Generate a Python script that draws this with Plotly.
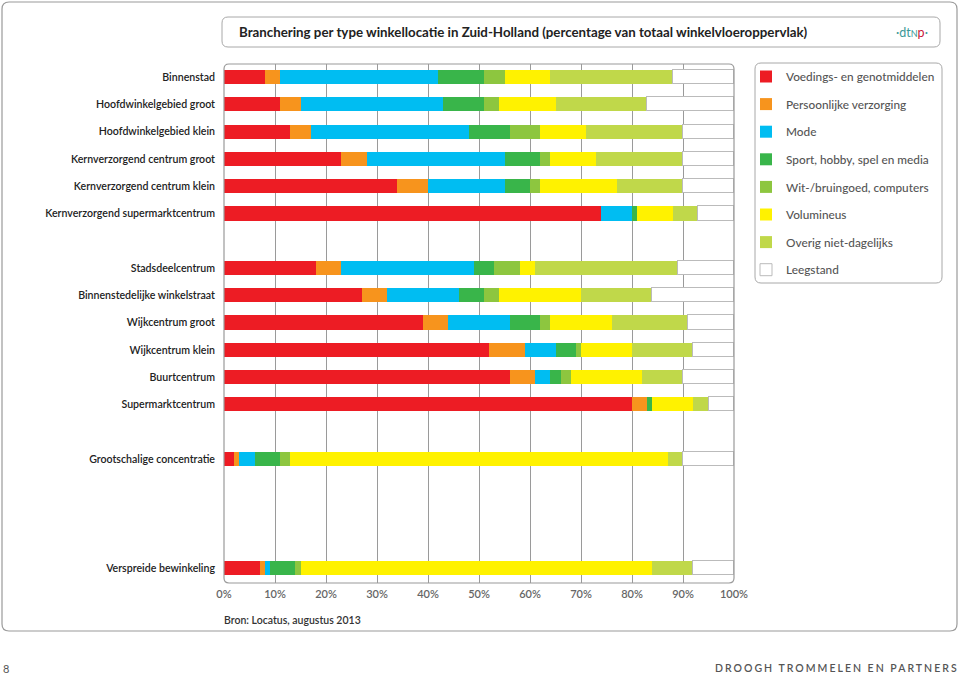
import plotly.graph_objects as go

# ---------------- data ----------------
categories = [
    "Binnenstad", "Hoofdwinkelgebied groot", "Hoofdwinkelgebied klein",
    "Kernverzorgend centrum groot", "Kernverzorgend centrum klein",
    "Kernverzorgend supermarktcentrum",
    "Stadsdeelcentrum", "Binnenstedelijke winkelstraat", "Wijkcentrum groot",
    "Wijkcentrum klein", "Buurtcentrum", "Supermarktcentrum",
    "Grootschalige concentratie", "Verspreide bewinkeling",
]
series_names = [
    "Voedings- en genotmiddelen", "Persoonlijke verzorging", "Mode",
    "Sport, hobby, spel en media", "Wit-/bruingoed, computers",
    "Volumineus", "Overig niet-dagelijks", "Leegstand",
]
voedings     = [8, 11, 13, 23, 34, 74, 18, 27, 39, 52, 56, 80, 2, 7]
verzorging   = [3, 4, 4, 5, 6, 0, 5, 5, 5, 7, 5, 3, 1, 1]
mode         = [31, 28, 31, 27, 15, 6, 26, 14, 12, 6, 3, 0, 3, 1]
sport        = [9, 8, 8, 7, 5, 1, 4, 5, 6, 4, 2, 1, 5, 5]
witbruin     = [4, 3, 6, 2, 2, 0, 5, 3, 2, 1, 2, 0, 2, 1]
volumineus   = [9, 11, 9, 9, 15, 7, 3, 16, 12, 10, 14, 8, 74, 69]
overig       = [24, 18, 19, 17, 13, 5, 28, 14, 15, 12, 8, 3, 3, 8]
leegstand    = [12, 17, 10, 10, 10, 7, 11, 16, 9, 8, 10, 5, 10, 8]
x_ticks = [0, 10, 20, 30, 40, 50, 60, 70, 80, 90, 100]
x_ticklabels = ["0%", "10%", "20%", "30%", "40%", "50%", "60%", "70%", "80%", "90%", "100%"]

# ---------------- layout/style ----------------
row_slots = [0, 1, 2, 3, 4, 5, 7, 8, 9, 10, 11, 12, 14, 18]
colors = ["#ED1C24", "#F7941D", "#00BDF2", "#39B54A", "#8DC63F",
          "#FFF200", "#C0D84A", "#FFFFFF"]
all_series = [voedings, verzorging, mode, sport, witbruin, volumineus, overig, leegstand]

W, H = 960, 677
ML, MR, MT, MB = 224, 226, 64, 94
PW, PH = W - ML - MR, H - MT - MB
FONT = "Lato"


def X(px):
    return (px - ML) / PW


def Y(py):
    return 1 - (py - MT) / PH


def rrect(x0, y0, x1, y1, r):
    return (f"M{X(x0 + r)},{Y(y0)} L{X(x1 - r)},{Y(y0)} Q{X(x1)},{Y(y0)} {X(x1)},{Y(y0 + r)} "
            f"L{X(x1)},{Y(y1 - r)} Q{X(x1)},{Y(y1)} {X(x1 - r)},{Y(y1)} "
            f"L{X(x0 + r)},{Y(y1)} Q{X(x0)},{Y(y1)} {X(x0)},{Y(y1 - r)} "
            f"L{X(x0)},{Y(y0 + r)} Q{X(x0)},{Y(y0)} {X(x0 + r)},{Y(y0)} Z")


fig = go.Figure()
for i, (name, vals, col) in enumerate(zip(series_names, all_series, colors)):
    line = dict(color="#BBBBBB", width=1) if name == "Leegstand" else dict(width=0)
    fig.add_trace(go.Bar(
        y=row_slots, x=vals, name=name, orientation="h", width=0.52,
        marker=dict(color=col, line=line), legendgroup=f"g{i}",
        hovertemplate="%{x}%<extra>" + name + "</extra>",
    ))

shapes = [
    dict(type="path", xref="paper", yref="paper", path=rrect(2, 2, 957, 631, 7),
         line=dict(color="#9A9A9A", width=1.2), layer="below"),
    dict(type="path", xref="paper", yref="paper", path=rrect(222, 17, 940, 47, 6),
         line=dict(color="#A8A8A8", width=1), fillcolor="white", layer="below"),
    dict(type="path", xref="paper", yref="paper", path=rrect(755, 63, 942, 283, 6),
         line=dict(color="#A8A8A8", width=1), layer="below"),
    dict(type="path", xref="paper", yref="paper", path=rrect(224, 64, 734, 583, 5),
         line=dict(color="#9A9A9A", width=1.2), layer="above"),
]

annotations = [
    dict(x=X(237), y=Y(32), xref="paper", yref="paper", xanchor="left", yanchor="middle",
         showarrow=False,
         text="Branchering per type winkellocatie in Zuid-Holland (percentage van totaal winkelvloeroppervlak)",
         font=dict(family=FONT, size=13.3, color="#222222", weight=700)),
    dict(x=X(930), y=Y(33), xref="paper", yref="paper", xanchor="right", yanchor="middle",
         showarrow=False,
         text="·dt<span style='font-size:9px'>N</span><span style='color:#C8173A'>p</span>·",
         font=dict(family=FONT, size=12.5, color="#3A9898")),
    dict(x=X(222), y=Y(620), xref="paper", yref="paper", xanchor="left", yanchor="middle",
         showarrow=False, text="Bron: Locatus, augustus 2013",
         font=dict(family=FONT, size=10.5, color="#333333", weight=600)),
    dict(x=X(1), y=Y(668), xref="paper", yref="paper", xanchor="left", yanchor="middle",
         showarrow=False, text="8",
         font=dict(family=FONT, size=11, color="#555555")),
    dict(x=X(961), y=Y(668), xref="paper", yref="paper", xanchor="right", yanchor="middle",
         showarrow=False,
         text="<span style='letter-spacing:2px'>DROOGH TROMMELEN EN PARTNERS</span>",
         font=dict(family=FONT, size=10.5, color="#555555", weight=600)),
]

fig.update_layout(
    width=W, height=H,
    margin=dict(l=ML, r=MR, t=MT, b=MB, pad=0),
    barmode="stack",
    bargap=0,
    plot_bgcolor="white", paper_bgcolor="white",
    font=dict(family=FONT, color="#222222"),
    showlegend=True,
    legend=dict(
        x=X(746), y=Y(62), xanchor="left", yanchor="top",
        bgcolor="rgba(0,0,0,0)", borderwidth=0,
        traceorder="grouped", tracegroupgap=8.6,
        font=dict(family=FONT, size=11.8, color="#555555", weight=500),
        itemclick=False, itemdoubleclick=False,
    ),
    xaxis=dict(
        range=[0, 100], tickvals=x_ticks, ticktext=x_ticklabels,
        showgrid=True, gridcolor="#9A9A9A", gridwidth=1,
        zeroline=False, showline=False, ticks="", ticklabelstandoff=3,
        tickfont=dict(family=FONT, size=11, color="#666666", weight=600),
        fixedrange=True,
    ),
    yaxis=dict(
        range=[18.55, -0.48], tickvals=row_slots, ticktext=categories,
        showgrid=False, zeroline=False, showline=False, ticks="",
        ticklabelstandoff=8,
        tickfont=dict(family=FONT, size=10.6, color="#222222", weight=600),
        fixedrange=True,
    ),
    shapes=shapes,
    annotations=annotations,
)

fig.write_html("out.html")
